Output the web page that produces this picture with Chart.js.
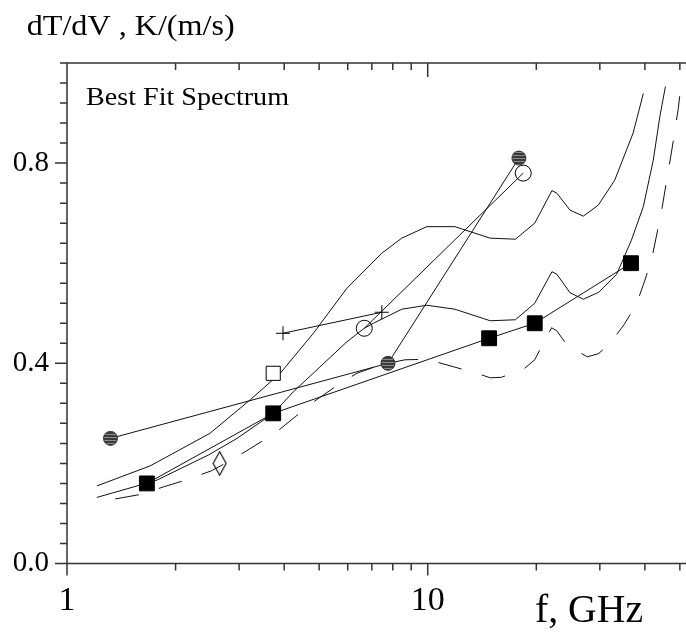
<!DOCTYPE html>
<html><head><meta charset="utf-8">
<script src="https://cdn.jsdelivr.net/npm/chart.js@4/dist/chart.umd.min.js"></script>
<style>html,body{margin:0;padding:0;background:#fff;overflow:hidden}</style>
</head><body>
<canvas id="c" width="686" height="633"></canvas>
<script>
// ---- tick definitions ----
const xTickLabels = [1, 10];
const xMinorTicks = [2, 3, 4, 5, 6, 7, 8, 9, 20, 30, 40, 50];
const yTickLabels = [0, 0.4, 0.8];
const yMinorStep = 0.04;
const xMin = 1, xMax = 52, yMin = 0, yMax = 1.0;

// ---- model curves ----
const fitUpperFreq = [1.21, 1.70, 2.49, 3.22, 3.90, 4.82, 5.97, 7.46, 8.47, 9.94, 11.9, 14.9, 17.5, 19.8, 22.1, 22.8, 24.8, 27.0, 29.7, 33.0, 37.1, 39.6];
const fitUpperVal  = [0.155, 0.195, 0.260, 0.327, 0.380, 0.460, 0.550, 0.620, 0.650, 0.673, 0.673, 0.650, 0.648, 0.680, 0.745, 0.740, 0.706, 0.694, 0.716, 0.766, 0.860, 0.939];

const fitMidFreq = [1.21, 1.60, 1.78, 2.47, 2.96, 3.73, 4.24, 5.97, 6.67, 7.07, 8.47, 9.94, 11.9, 14.9, 17.5, 19.8, 22.1, 22.8, 24.8, 27.0, 29.8, 33.4, 36.7, 39.6, 42.2, 44.0, 45.6];
const fitMidVal  = [0.132, 0.157, 0.167, 0.217, 0.250, 0.300, 0.343, 0.443, 0.470, 0.480, 0.508, 0.516, 0.508, 0.485, 0.487, 0.520, 0.583, 0.578, 0.541, 0.528, 0.542, 0.578, 0.646, 0.713, 0.806, 0.893, 0.953];

const fitLowFreq = [1.36, 1.60, 1.85, 2.16, 2.51, 2.88, 3.31, 3.78, 4.29, 4.87, 5.54, 6.36, 7.4, 8.65, 9.94, 11.8, 13.7, 14.9, 16.0, 18.5, 19.8, 20.4, 22.05, 22.8, 24.4, 27.7, 29.7, 31.8, 35.0, 37.9, 40.0, 41.9, 43.3, 44.7, 45.9, 47.1, 48.4, 49.5, 50.0];
const fitLowVal  = [0.129, 0.138, 0.153, 0.168, 0.185, 0.208, 0.235, 0.261, 0.293, 0.325, 0.353, 0.380, 0.397, 0.407, 0.408, 0.393, 0.380, 0.371, 0.372, 0.389, 0.407, 0.425, 0.471, 0.465, 0.435, 0.413, 0.419, 0.437, 0.477, 0.518, 0.566, 0.613, 0.663, 0.713, 0.763, 0.810, 0.863, 0.909, 0.936];

// ---- measurements ----
const stripedFreq = [1.32, 7.76, 17.9];
const stripedVal  = [0.250, 0.400, 0.810];
const filledSquareFreq = [1.665, 3.73, 14.8, 19.8, 36.6];
const filledSquareVal  = [0.160, 0.300, 0.450, 0.480, 0.600];
const openCircleFreq = [6.67, 18.4];
const openCircleVal  = [0.470, 0.780];
const plusFreq = [3.97, 7.46];
const plusVal  = [0.460, 0.502];
const openSquareFreq = [3.73];
const openSquareVal  = [0.380];
const diamondFreq = [2.65];
const diamondVal  = [0.200];

const pts = (f, v) => f.map((x, i) => ({x, y: v[i]}));

const canvas = document.getElementById('c');
const ctx0 = canvas.getContext('2d');

// striped fill pattern
const pc = document.createElement('canvas'); pc.width = 4; pc.height = 3;
const pctx = pc.getContext('2d');
pctx.fillStyle = '#3a3a3a'; pctx.fillRect(0, 0, 4, 3);
pctx.fillStyle = '#8c8c8c'; pctx.fillRect(0, 2, 4, 1);
const stripe = ctx0.createPattern(pc, 'repeat');

// tall diamond marker
const dc = document.createElement('canvas'); dc.width = 15; dc.height = 25;
const dctx = dc.getContext('2d');
dctx.strokeStyle = '#000'; dctx.lineWidth = 1.1;
dctx.beginPath(); dctx.moveTo(7.5, 0.8); dctx.lineTo(14, 12.5); dctx.lineTo(7.5, 24.2); dctx.lineTo(1, 12.5); dctx.closePath(); dctx.stroke();

const LINE = '#111';
const FONT = "'Liberation Serif','Times New Roman',serif";

const frame = {
  id: 'frame',
  afterDraw(chart) {
    const ctx = chart.ctx, a = chart.chartArea, xs = chart.scales.x, ys = chart.scales.y;
    ctx.save();
    ctx.strokeStyle = '#333'; ctx.lineWidth = 1.5;
    ctx.beginPath();
    ctx.moveTo(a.left, a.top); ctx.lineTo(a.left, a.bottom);
    ctx.moveTo(a.left, a.bottom); ctx.lineTo(a.right, a.bottom);
    ctx.moveTo(a.left, a.top); ctx.lineTo(a.right, a.top);
    for (const v of xTickLabels) {
      const p = xs.getPixelForValue(v);
      ctx.moveTo(p, a.bottom); ctx.lineTo(p, a.bottom + 12);
      ctx.moveTo(p, a.top); ctx.lineTo(p, a.top + 14);
    }
    for (const v of xMinorTicks) {
      const p = xs.getPixelForValue(v);
      ctx.moveTo(p, a.bottom); ctx.lineTo(p, a.bottom + 7);
      ctx.moveTo(p, a.top); ctx.lineTo(p, a.top + 7);
    }
    const n = Math.round((yMax - yMin) / yMinorStep);
    for (let i = 0; i <= n; i++) {
      const v = yMin + i * yMinorStep;
      const p = ys.getPixelForValue(v);
      const major = yTickLabels.some(t => Math.abs(t - v) < 1e-6);
      ctx.moveTo(a.left, p); ctx.lineTo(a.left - (major ? 12 : 7), p);
    }
    ctx.stroke();

    const txt = (s, left, base, size, width) => {
      ctx.font = size + 'px ' + FONT;
      ctx.fillStyle = '#000';
      ctx.textBaseline = 'alphabetic'; ctx.textAlign = 'left';
      const w = ctx.measureText(s).width;
      ctx.save(); ctx.translate(left, base); ctx.scale(width / w, 1);
      ctx.fillText(s, 0, 0); ctx.restore();
    };
    txt('dT/dV , K/(m/s)', 26.7, 34.5, 29, 208);
    txt('Best Fit Spectrum', 86, 105, 26, 203);
    txt('f, GHz', 535, 621.7, 40, 108);
    ctx.restore();
  }
};

new Chart(canvas, {
  type: 'scatter',
  data: {
    datasets: [
      { data: pts(filledSquareFreq, filledSquareVal), showLine: true, borderColor: LINE, borderWidth: 1,
        pointStyle: 'rect', pointRadius: 10.5, backgroundColor: '#000', pointBorderColor: '#000', pointBorderWidth: 1 },
      { data: pts(stripedFreq, stripedVal), showLine: true, borderColor: LINE, borderWidth: 1,
        pointStyle: 'circle', pointRadius: 7, backgroundColor: stripe, pointBorderColor: '#333', pointBorderWidth: 1 },
      { data: pts(openCircleFreq, openCircleVal), showLine: true, borderColor: LINE, borderWidth: 1,
        pointStyle: 'circle', pointRadius: 8, backgroundColor: 'rgba(0,0,0,0)', pointBorderColor: '#000', pointBorderWidth: 1 },
      { data: pts(plusFreq, plusVal), showLine: true, borderColor: LINE, borderWidth: 1,
        pointStyle: 'cross', pointRadius: 7, pointBorderColor: '#000', pointBorderWidth: 1 },
      { data: pts(openSquareFreq, openSquareVal), showLine: false,
        pointStyle: 'rect', pointRadius: 10, backgroundColor: '#fff', pointBorderColor: '#000', pointBorderWidth: 1 },
      { data: pts(diamondFreq, diamondVal), showLine: false, pointStyle: dc, pointRadius: 8 },
      { data: pts(fitUpperFreq, fitUpperVal), showLine: true, borderColor: LINE, borderWidth: 1, pointRadius: 0 },
      { data: pts(fitMidFreq, fitMidVal), showLine: true, borderColor: LINE, borderWidth: 1, pointRadius: 0 },
      { data: pts(fitLowFreq, fitLowVal), showLine: true, borderColor: LINE, borderWidth: 1, pointRadius: 0, borderDash: [24, 21] }
    ]
  },
  options: {
    responsive: false, animation: false, devicePixelRatio: 1,
    layout: { autoPadding: false, padding: { top: 63, right: 0, left: 0, bottom: 0 } },
    plugins: { legend: { display: false }, tooltip: { enabled: false }, title: { display: false } },
    elements: { line: { tension: 0 } },
    scales: {
      x: {
        type: 'logarithmic', min: xMin, max: xMax,
        grid: { display: false, drawTicks: false }, border: { display: false },
        afterBuildTicks: s => { s.ticks = xTickLabels.map(v => ({value: v, major: true})); },
        ticks: { autoSkip: false, maxRotation: 0, padding: 17, color: '#000', font: { family: FONT, size: 34 }, callback: v => String(v) },
        afterFit: s => { s.height = 69.5; s.paddingLeft = 0; s.paddingRight = 0; }
      },
      y: {
        type: 'linear', min: yMin, max: yMax,
        grid: { display: false, drawTicks: false }, border: { display: false },
        afterBuildTicks: s => { s.ticks = yTickLabels.map(v => ({value: v})); },
        ticks: { padding: 18, color: '#000', font: { family: FONT, size: 29 }, callback: v => v.toFixed(1) },
        afterFit: s => { s.width = 67; s.paddingTop = 0; s.paddingBottom = 0; }
      }
    }
  },
  plugins: [frame]
});
</script>
</body></html>
